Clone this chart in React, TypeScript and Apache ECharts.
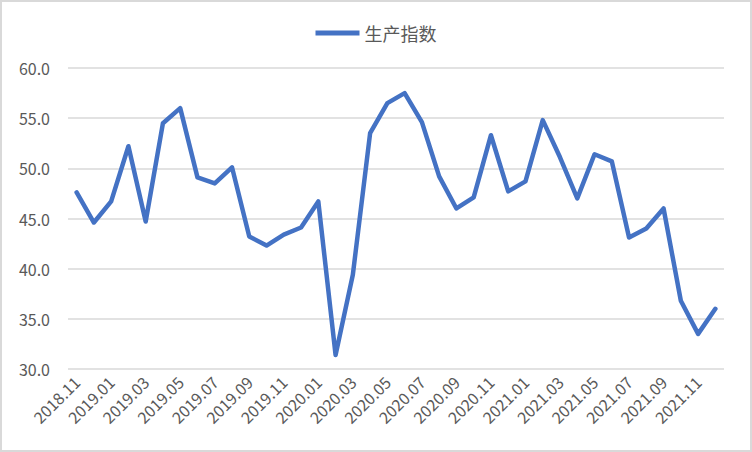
import React, { useEffect, useRef } from "react";
import * as echarts from "echarts";

const months = [
  "2018.11", "2018.12",
  "2019.01", "2019.02", "2019.03", "2019.04", "2019.05", "2019.06",
  "2019.07", "2019.08", "2019.09", "2019.10", "2019.11", "2019.12",
  "2020.01", "2020.02", "2020.03", "2020.04", "2020.05", "2020.06",
  "2020.07", "2020.08", "2020.09", "2020.10", "2020.11", "2020.12",
  "2021.01", "2021.02", "2021.03", "2021.04", "2021.05", "2021.06",
  "2021.07", "2021.08", "2021.09", "2021.10", "2021.11", "2021.12",
];

const productionIndex = [
  47.6, 44.6,
  46.7, 52.2, 44.7, 54.5, 56.0, 49.1,
  48.5, 50.1, 43.2, 42.3, 43.4, 44.1,
  46.7, 31.4, 39.4, 53.5, 56.5, 57.5,
  54.6, 49.2, 46.0, 47.1, 53.3, 47.7,
  48.7, 54.8, 51.1, 47.0, 51.4, 50.7,
  43.1, 44.0, 46.0, 36.8, 33.5, 36.0,
];

const seriesName = "生产指数";

export default function App() {
  const ref = useRef<HTMLDivElement>(null);

  useEffect(() => {
    document.body.style.margin = "0";
    if (!ref.current) return;
    const chart = echarts.init(ref.current, null, { renderer: "svg" });
    const font = "'Noto Sans CJK SC', 'Noto Sans', sans-serif";
    chart.setOption({
      animation: false,
      backgroundColor: "#ffffff",
      textStyle: { fontFamily: font },
      legend: {
        top: 17,
        left: "center",
        itemWidth: 44,
        itemHeight: 14,
        itemGap: 4,
        textStyle: { color: "#595959", fontSize: 18, fontFamily: font },
        data: [{ name: seriesName, icon: "path://M0,0 L44,0 L44,5 L0,5 Z" }],
      },
      grid: { left: 66, right: 26, top: 66, bottom: 81, containLabel: false },
      xAxis: {
        type: "category",
        data: months,
        boundaryGap: true,
        axisLine: { show: false },
        axisTick: { show: false },
        axisLabel: {
          interval: 1,
          rotate: 45,
          margin: 10,
          color: "#595959",
          fontSize: 16,
          fontFamily: font,
        },
        splitLine: { show: false },
      },
      yAxis: {
        type: "value",
        min: 30,
        max: 60,
        interval: 5,
        axisLine: { show: false },
        axisTick: { show: false },
        axisLabel: {
          margin: 18,
          color: "#595959",
          fontSize: 16,
          fontFamily: font,
          formatter: (v: number) => v.toFixed(1),
        },
        splitLine: { lineStyle: { color: "#d9d9d9", width: 1.5 } },
      },
      series: [
        {
          name: seriesName,
          type: "line",
          data: productionIndex,
          showSymbol: false,
          symbol: "none",
          color: "#4472c4",
          lineStyle: { color: "#4472c4", width: 4.5, cap: "round", join: "round" },
        },
      ],
    });
    return () => chart.dispose();
  }, []);

  return (
    <div
      style={{
        position: "absolute",
        left: 0,
        top: 0,
        width: 752,
        height: 452,
        boxSizing: "border-box",
        border: "2px solid #d9d9d9",
        background: "#fff",
      }}
    >
      <div ref={ref} style={{ width: 748, height: 448 }} />
    </div>
  );
}
